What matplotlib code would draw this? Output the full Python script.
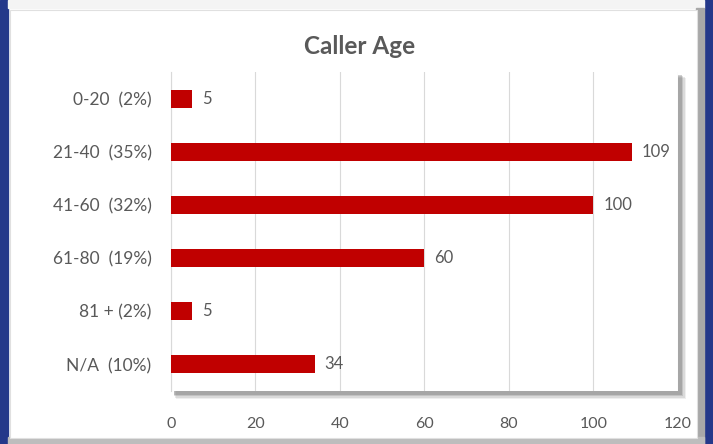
import matplotlib.pyplot as plt
from matplotlib.patches import Rectangle

categories = ["0-20  (2%)", "21-40  (35%)", "41-60  (32%)", "61-80  (19%)", "81 + (2%)", "N/A  (10%)"]
values = [5, 109, 100, 60, 5, 34]
xticks = [0, 20, 40, 60, 80, 100, 120]

W, H = 713, 444
fig = plt.figure(figsize=(W / 100, H / 100), dpi=100)
fig.patch.set_facecolor("white")

plt.rcParams["font.family"] = ["Lato", "DejaVu Sans"]
txt = "#595959"

# page background / border pieces
def px(x0, y0, x1, y1, **kw):
    fig.patches.append(Rectangle((x0 / W, 1 - y1 / H), (x1 - x0) / W, (y1 - y0) / H,
                                 transform=fig.transFigure, **kw))

px(0, 0, 8, H, color="#24388a", zorder=0)
px(704, 0, W, H, color="#24388a", zorder=0)
px(8, 0, 704, 8, color="#f4f4f4", zorder=0)
px(696, 8, 704, 444, color="#a8a8a8", zorder=0)
px(8, 437, 704, 444, color="#bdbdbd", zorder=0)
px(10, 10, 697, 438, color="white", ec="#e0e0e0", lw=0.8, zorder=0.5)
# plot area soft drop shadow
for i, a in enumerate([0.10, 0.15, 0.2, 0.3]):
    d = 7 - i * 1.5
    px(172 + d * 0.6, 74 + d * 0.6, 679 + d, 392 + d, color="#666666", alpha=a, lw=0, zorder=0.6)

x0, x1, y0, y1 = 171, 678, 72, 391
ax = fig.add_axes([x0 / W, 1 - y1 / H, (x1 - x0) / W, (y1 - y0) / H])
ax.set_facecolor("white")
ax.set_zorder(1)

pos = list(range(len(categories)))
ax.barh(pos, values, height=0.34, color="#c00000", zorder=3)
for p, v in zip(pos, values):
    ax.text(v + 2.3, p, str(v), va="center", ha="left", fontsize=12, color=txt)

ax.set_xlim(0, 120)
ax.set_ylim(len(categories) - 0.5, -0.5)
ax.set_xticks(xticks)
ax.set_yticks(pos)
ax.set_yticklabels(categories, fontsize=12.5, color=txt)
ax.set_xticklabels([str(t) for t in xticks], fontsize=11.5, color=txt)
ax.tick_params(axis="both", length=0)
ax.tick_params(axis="x", pad=19)
ax.tick_params(axis="y", pad=14)
ax.grid(axis="x", color="#d9d9d9", lw=0.8, zorder=0)
for s in ["top", "right", "bottom"]:
    ax.spines[s].set_visible(False)
ax.spines["left"].set_color("#d9d9d9")

fig.text(360 / W, 1 - 47 / H, "Caller Age", ha="center", va="center",
         fontsize=17.5, fontweight="bold", color=txt)

fig.savefig("out.png", dpi=100)
